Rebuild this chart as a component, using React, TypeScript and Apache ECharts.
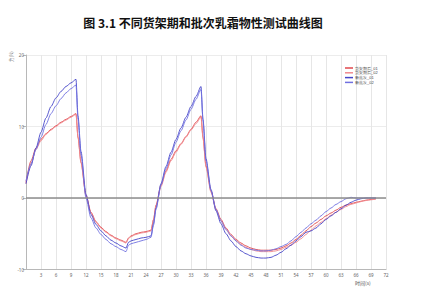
import React, { useEffect, useRef } from "react";
import * as echarts from "echarts";

// Sample times (s)
const times = [
  0, 1, 2, 3, 4, 5, 6, 7, 8, 9, 10, 10.4, 11, 12, 13, 14, 15, 16, 17, 18, 19, 20, 20.5,
  21, 22, 23, 24, 25, 25.5, 26, 27, 28, 29, 30, 31, 32, 33, 34, 35, 35.4, 36, 37, 38, 39,
  40, 41, 42, 43, 44, 45, 46, 47, 48, 49, 50, 51, 52, 53, 54, 55, 56, 57, 58, 59, 60, 61,
  62, 63, 64, 65, 66, 67, 68, 69, 70,
];

const shelfA = [
  2.2, 5.2, 7.0, 8.2, 9.0, 9.6, 10.1, 10.6, 11.0, 11.4, 11.8, 8.5, 5.0, 0.4, -2.0, -3.3, -4.1, -4.7, -5.2, -5.6, -5.9, -6.2, -5.6,
  -5.3, -5.0, -4.8, -4.7, -4.5, -3.0, -1.0, 1.8, 3.8, 5.4, 6.6, 7.6, 8.6, 9.6, 10.6, 11.5, 8.5, 4.5, 1.0, -1.5, -3.0,
  -4.2, -5.1, -5.8, -6.3, -6.7, -7.0, -7.2, -7.3, -7.3, -7.3, -7.2, -7.0, -6.7, -6.3, -5.8, -5.2, -4.6, -4.0, -3.5, -3.0, -2.5, -2.1,
  -1.7, -1.3, -1.0, -0.8, -0.6, -0.45, -0.3, -0.2, -0.1,
];

const shelfB = [
  2.0, 4.8, 6.8, 8.0, 8.9, 9.5, 10.0, 10.5, 10.9, 11.3, 11.7, 8.4, 4.9, 0.3, -2.1, -3.4, -4.2, -4.8, -5.3, -5.7, -6.0, -6.3, -5.7,
  -5.4, -5.1, -4.9, -4.8, -4.6, -3.1, -1.1, 1.6, 3.6, 5.2, 6.4, 7.5, 8.5, 9.5, 10.4, 11.3, 8.3, 4.3, 0.8, -1.7, -3.2,
  -4.4, -5.3, -6.0, -6.5, -6.9, -7.2, -7.4, -7.5, -7.5, -7.5, -7.4, -7.2, -6.9, -6.6, -6.2, -5.7, -5.1, -4.5, -3.9, -3.4, -2.9, -2.4,
  -2.0, -1.6, -1.2, -0.9, -0.7, -0.5, -0.35, -0.25, -0.15,
];

const batchA = [
  2.0, 4.5, 7.0, 9.2, 11.2, 12.8, 14.0, 14.9, 15.6, 16.1, 16.6, 11.5, 6.5, 0.5, -2.3, -3.7, -4.6, -5.3, -5.9, -6.3, -6.7, -7.0, -6.2,
  -6.0, -5.8, -5.6, -5.5, -5.3, -3.6, -1.4, 2.0, 4.4, 6.4, 8.2, 9.8, 11.3, 12.8, 14.2, 15.6, 11.0, 5.5, 1.2, -1.8, -3.6,
  -5.0, -6.0, -6.8, -7.4, -7.8, -8.1, -8.3, -8.4, -8.4, -8.3, -8.0, -7.6, -7.1, -6.6, -6.0, -5.4, -4.8, -4.6, -4.2, -3.6, -3.0, -2.5,
  -2.0, -1.5, -1.0, -0.6, -0.3, -0.1, 0, 0, 0,
];

const batchB = [
  2.4, 4.8, 6.8, 8.5, 10.3, 11.8, 12.9, 13.9, 14.7, 15.3, 15.8, 11.0, 6.0, 0.0, -2.8, -4.2, -5.1, -5.8, -6.4, -6.8, -7.2, -7.5, -6.6,
  -6.4, -6.2, -6.0, -5.8, -5.5, -3.8, -1.6, 1.8, 4.1, 6.0, 7.8, 9.4, 10.9, 12.4, 13.8, 15.2, 10.8, 5.2, 1.0, -1.6, -3.2,
  -4.4, -5.3, -6.0, -6.6, -7.0, -7.2, -7.3, -7.4, -7.4, -7.3, -7.1, -6.8, -6.5, -6.0, -5.4, -4.8, -4.2, -3.6, -3.1, -2.5, -1.9, -1.4,
  -0.9, -0.5, -0.1, 0.1, 0, 0, 0, 0, 0,
];

const seriesNames = ["货架期后_01", "货架期后_02", "新批次_01", "新批次_02"];
const seriesColors = ["#e0474c", "#f08a8f", "#4545c8", "#7070e0"];
const seriesValues = [shelfA, shelfB, batchA, batchB];

const xTicks = { min: 0, max: 72, interval: 3 };
const yTicks = { min: -10, max: 20, interval: 10 };

export default function App() {
  const ref = useRef<HTMLDivElement>(null);

  useEffect(() => {
    if (!ref.current) return;
    const chart = echarts.init(ref.current, undefined, { renderer: "svg" });
    const axisGrey = "#b8b8b8";
    const labelStyle = { fontSize: 4.5, color: "#666", fontFamily: "Noto Sans" };

    chart.setOption({
      animation: false,
      backgroundColor: "#ffffff",
      title: {
        text: "图 3.1 不同货架期和批次乳霜物性测试曲线图",
        left: 198,
        top: 11,
        textAlign: "center",
        textStyle: {
          fontSize: 12,
          fontWeight: "bold",
          color: "#111",
          fontFamily: "Noto Sans CJK SC",
        },
      },
      legend: {
        data: seriesNames,
        orient: "vertical",
        left: 340,
        top: 61,
        itemWidth: 8,
        itemHeight: 1.5,
        itemGap: 0.8,
        icon: "rect",
        textStyle: { fontSize: 4, color: "#444", padding: [0, 0, 0, -3] },
      },
      grid: { left: 26, right: 38, top: 55, bottom: 30.5 },
      xAxis: {
        type: "value",
        min: xTicks.min,
        max: xTicks.max,
        interval: xTicks.interval,
        axisLine: { show: true, onZero: false, lineStyle: { color: axisGrey, width: 1 } },
        axisTick: { show: false },
        splitLine: { show: true, lineStyle: { color: "#e6e6e6", width: 1 } },
        axisLabel: {
          ...labelStyle,
          margin: 3,
          formatter: (v: number) => (v === 0 ? "" : String(v)),
        },
      },
      yAxis: {
        type: "value",
        min: yTicks.min,
        max: yTicks.max,
        interval: yTicks.interval,
        axisLine: { show: true, lineStyle: { color: axisGrey, width: 1 } },
        axisTick: { show: true, length: 3, lineStyle: { color: axisGrey } },
        splitLine: { show: true, lineStyle: { color: "#ececec", width: 1 } },
        axisLabel: { ...labelStyle, margin: 2 },
      },
      graphic: [
        {
          type: "text",
          x: 9,
          y: 62,
          rotation: Math.PI / 2,
          style: { text: "力(N)", fontSize: 4.5, fill: "#666", fontFamily: "Noto Sans CJK SC" },
        },
        {
          type: "text",
          left: 355,
          top: 280,
          style: { text: "时间(s)", fontSize: 5, fill: "#555", fontFamily: "Noto Sans CJK SC" },
        },
      ],
      series: seriesValues.map((vals, i) => ({
        name: seriesNames[i],
        type: "line",
        showSymbol: false,
        smooth: 0.25,
        smoothMonotone: "x",
        data: times.map((t, k) => [t, vals[k]]),
        lineStyle: { color: seriesColors[i], width: 0.9 },
        itemStyle: { color: seriesColors[i] },
        z: 3,
        markLine:
          i === 0
            ? {
                silent: true,
                symbol: "none",
                label: { show: false },
                lineStyle: { color: "#8c8c8c", width: 1.5, type: "solid" },
                data: [{ yAxis: 0 }],
              }
            : undefined,
      })),
    });

    return () => chart.dispose();
  }, []);

  return (
    <div
      ref={ref}
      style={{ position: "fixed", left: 0, top: 0, width: 424, height: 300 }}
    />
  );
}
